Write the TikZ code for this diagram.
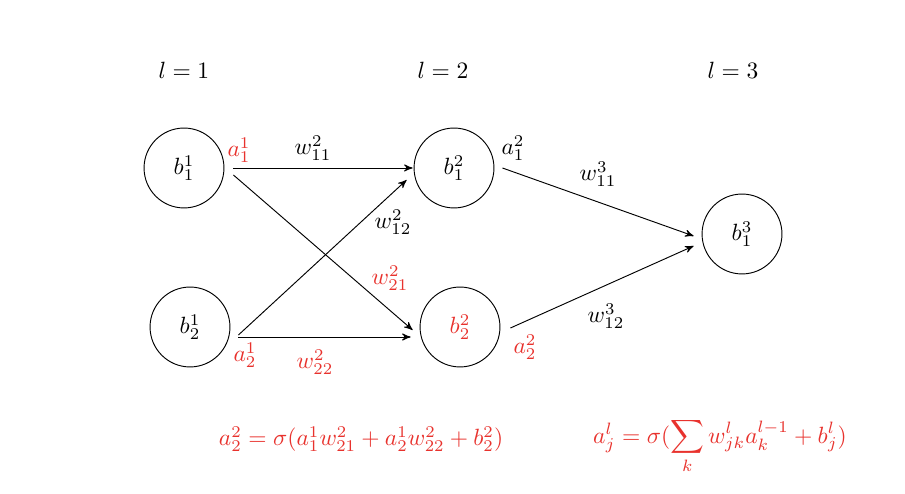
\documentclass[tikz,border=0pt]{standalone}
\usepackage{amsmath}
\usetikzlibrary{arrows}
\definecolor{netred}{RGB}{232,50,45}

\begin{document}
\begin{tikzpicture}[->,>=stealth', x=0.4255pt, y=-0.4255pt,
		neuron/.style={circle, draw, minimum size=34pt, inner sep=0pt},
		hot/.style={text=netred}]
		\useasboundingbox (0,0) rectangle (905,494);
		% layer titles
		\node[]	(L1)	at (184,70)	{$l = 1$};
		\node[]	(L2)	at (443,70)	{$l = 2$};
		\node[]	(L3)	at (733,70)	{$l = 3$};
		% neurons
		\node[neuron]	(B11)	at (184,168)	{$b_1^1$};
		\node[neuron]	(B21)	at (190,327)	{$b_2^1$};
		\node[neuron]	(B12)	at (454,168)	{$b_1^2$};
		\node[neuron, hot]	(B22)	at (460,327)	{$b_2^2$};
		\node[neuron]	(B13)	at (742,234)	{$b_1^3$};
		% weights and activations
		\node[hot]	(A11)	at (239,150)	{$a_1^1$};
		\node[hot]	(A21)	at (245,355)	{$a_2^1$};
		\node[]	(A12)	at (513,148)	{$a_1^2$};
		\node[hot]	(A22)	at (525,347)	{$a_2^2$};
		\node[]	(W211)	at (313,148)	{$w_{11}^2$};
		\node[]	(W212)	at (393,222)	{$w_{12}^2$};
		\node[hot]	(W221)	at (390,278)	{$w_{21}^2$};
		\node[hot]	(W222)	at (315,362)	{$w_{22}^2$};
		\node[]	(W311)	at (598,174)	{$w_{11}^3$};
		\node[]	(W312)	at (606,316)	{$w_{12}^3$};
		% formulas
		\node[hot]	(F1)	at (361,439)
			{$a_2^2 = \sigma(a_1^1 w_{21}^2 + a_2^1 w_{22}^2 + b_2^2)$};
		\node[hot]	(F2)	at (720,446)
			{$a_j^l = \sigma(\displaystyle\sum_k w_{jk}^l a_k^{l-1} + b_j^l)$};
		\path	([shift={(9,0)}]B11.east)	edge	([shift={(-1,0)}]B12.west)
				([shift={(9,7)}]B11.east)	edge	([shift={(-7,3)}]B22.west)
				([shift={(8,8)}]B21.east)	edge	([shift={(-7,12)}]B12.west)
				([shift={(8,10)}]B21.east)	edge	([shift={(-9,10)}]B22.west)
				([shift={(8,0)}]B12.east)	edge	([shift={(-8,2)}]B13.west)
				([shift={(10,1)}]B22.east)	edge	([shift={(-8,12)}]B13.west);
	\end{tikzpicture}
\end{document}
